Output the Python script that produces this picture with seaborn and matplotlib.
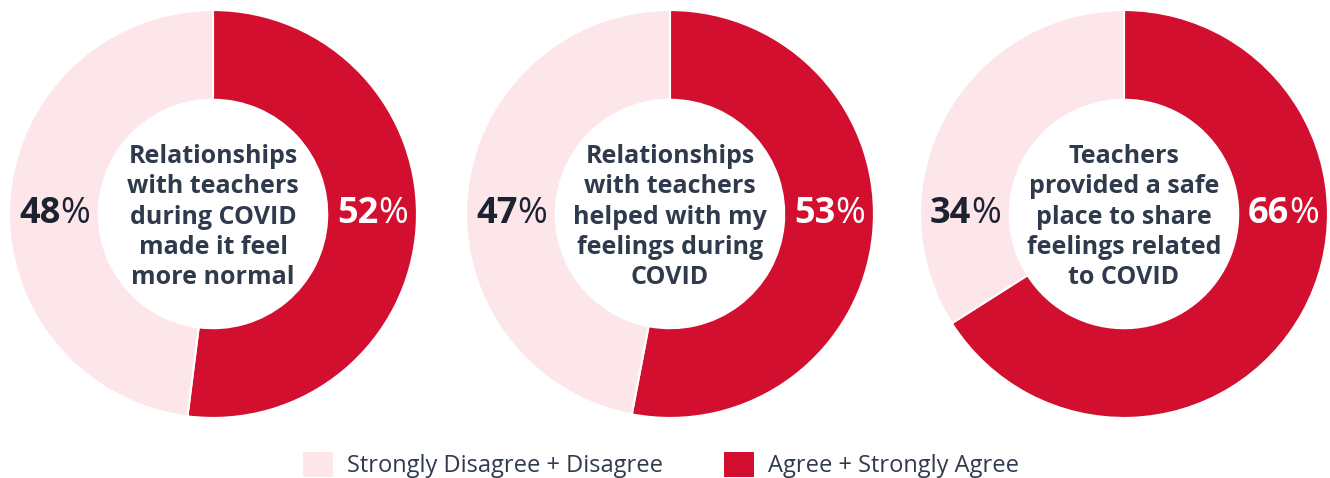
import matplotlib
matplotlib.use("Agg")
import matplotlib.pyplot as plt
from matplotlib.patches import Patch
import seaborn as sns

sns.set_theme(style="white")
plt.rcParams["font.family"] = ["Open Sans", "DejaVu Sans"]

# Survey results: share of students agreeing / disagreeing with each statement
statements = [
    "Relationships\nwith teachers\nduring COVID\nmade it feel\nmore normal",
    "Relationships\nwith teachers\nhelped with my\nfeelings during\nCOVID",
    "Teachers\nprovided a safe\nplace to share\nfeelings related\nto COVID",
]
agree = [52, 53, 66]
disagree = [48, 47, 34]
legend_labels = ["Strongly Disagree + Disagree", "Agree + Strongly Agree"]

RED = "#D20F2E"
PINK = "#FDE6EA"
NAVY = "#2F3A4C"
DARK = "#1C2230"

W, H = 1330, 478
fig = plt.figure(figsize=(W / 100, H / 100), dpi=100)
fig.patch.set_facecolor("white")

centers_x = [213, 670, 1124]
center_y = 214
size = 412
ring = 0.44
r_mid = 1 - ring / 2

for cx, text, a, d in zip(centers_x, statements, agree, disagree):
    ax = fig.add_axes([(cx - size / 2) / W, (H - center_y - size / 2) / H, size / W, size / H])
    ax.pie(
        [a, d],
        colors=[RED, PINK],
        startangle=90,
        counterclock=False,
        radius=1.0,
        wedgeprops=dict(width=ring, edgecolor="white", linewidth=1.5),
    )
    ax.set_xlim(-1.01, 1.01)
    ax.set_ylim(-1.01, 1.01)
    ax.set_aspect("equal")
    ax.axis("off")

    ax.text(0, -0.015, text, ha="center", va="center", fontsize=18,
            fontweight="bold", color=NAVY, linespacing=1.27)

    # value labels: bold number followed by a lighter percent sign
    for x, val, col in [(r_mid, a, "white"), (-r_mid, d, DARK)]:
        num = ax.text(x - 0.07, 0, f"{val}", ha="center", va="center",
                      fontsize=26, fontweight="bold", color=col)
        ax.annotate("%", xy=(1, 0.5), xycoords=num, xytext=(0, 0),
                    textcoords="offset points", ha="left", va="center",
                    fontsize=26, color=col)

handles = [Patch(facecolor=PINK, edgecolor="none"), Patch(facecolor=RED, edgecolor="none")]
fig.legend(
    handles, legend_labels,
    loc="center", bbox_to_anchor=(661 / W, (H - 465) / H),
    ncol=2, frameon=False, fontsize=17,
    handlelength=1.27, handleheight=1.27, handletextpad=0.6,
    columnspacing=2.6, labelcolor=NAVY,
)

fig.savefig("out.png", dpi=100, facecolor="white")
